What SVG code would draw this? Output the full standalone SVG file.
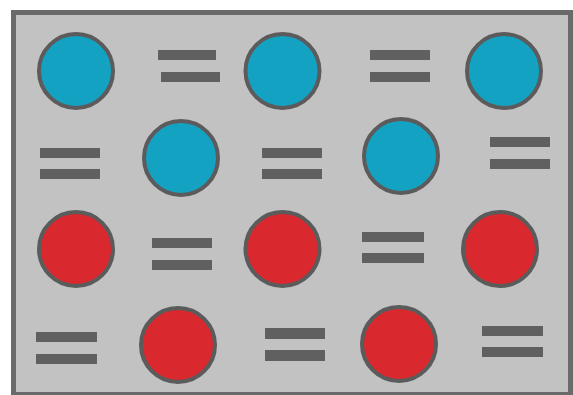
<svg xmlns="http://www.w3.org/2000/svg" width="573" height="395" viewBox="0 0 573 395">
<style>
.frame{fill:#c3c2c2;stroke:#6a6a6a;stroke-width:5}
.bar{fill:#606060}
.blue{fill:#14a2c2;stroke:#5c5a5b;stroke-width:4}
.red{fill:#da282f;stroke:#5a5c5c;stroke-width:4}
</style>
<rect width="573" height="395" fill="#ffffff"/>
<rect class="frame" x="13.5" y="12.5" width="557" height="382"/>
<g id="row1">
<circle class="blue" cx="76" cy="71" r="37"/>
<rect class="bar" x="158" y="50" width="58" height="10"/>
<rect class="bar" x="161" y="72" width="59" height="10"/>
<circle class="blue" cx="282.5" cy="71" r="37"/>
<rect class="bar" x="370" y="50" width="60" height="10"/>
<rect class="bar" x="370" y="72" width="60" height="10"/>
<circle class="blue" cx="504" cy="71" r="37"/>
</g>
<g id="row2">
<rect class="bar" x="40" y="148" width="60" height="10"/>
<rect class="bar" x="40" y="169" width="60" height="10"/>
<circle class="blue" cx="181" cy="158" r="37"/>
<rect class="bar" x="262" y="148" width="60" height="10"/>
<rect class="bar" x="262" y="169" width="60" height="10"/>
<circle class="blue" cx="401" cy="156" r="37"/>
<rect class="bar" x="490" y="137" width="60" height="10"/>
<rect class="bar" x="490" y="159" width="60" height="10"/>
</g>
<g id="row3">
<circle class="red" cx="76" cy="249" r="37"/>
<rect class="bar" x="152" y="238" width="60" height="10"/>
<rect class="bar" x="152" y="260" width="60" height="10"/>
<circle class="red" cx="282.5" cy="249" r="37"/>
<rect class="bar" x="362" y="232" width="62" height="10"/>
<rect class="bar" x="362" y="253" width="62" height="10"/>
<circle class="red" cx="500" cy="249" r="37"/>
</g>
<g id="row4">
<rect class="bar" x="36" y="332" width="61" height="10"/>
<rect class="bar" x="36" y="354" width="61" height="10"/>
<circle class="red" cx="178" cy="345" r="37"/>
<rect class="bar" x="265" y="328" width="60" height="11"/>
<rect class="bar" x="265" y="350" width="60" height="11"/>
<circle class="red" cx="399" cy="344" r="37"/>
<rect class="bar" x="482" y="326" width="61" height="10"/>
<rect class="bar" x="482" y="347" width="61" height="10"/>
</g>
</svg>
